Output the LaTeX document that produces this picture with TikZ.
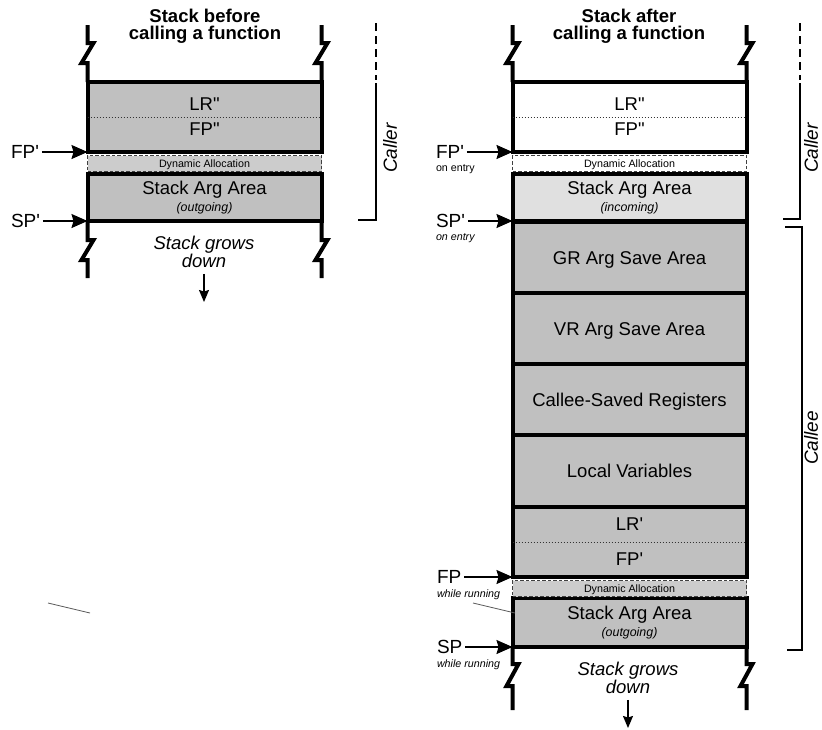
\documentclass[tikz,border=0pt]{standalone}
\usepackage{fontspec}
\setmainfont{Liberation Sans}[Ligatures=TeXOff]
\usetikzlibrary{arrows.meta}

\definecolor{framegray}{HTML}{C0C0C0}
\definecolor{inpale}{HTML}{E0E0E0}
\definecolor{dyngray}{HTML}{CCCCCC}

\newcommand\subnote[1]{{\fontsize{12.4}{17}\selectfont\itshape #1}}

\begin{document}
\begin{tikzpicture}[
		x=1pt, y=-1pt,
		every node/.style={inner sep=0pt, outer sep=0pt},
		heading/.style={
			font=\fontsize{18.5}{17}\selectfont\bfseries,
			align=center
		},
		cell/.style={
			rectangle,
			draw=black,
			line width=4pt,
			fill=framegray,
			minimum width=234pt,
			align=center,
			font=\fontsize{18.5}{17}\selectfont
		},
		oneline/.style={text height=13.3pt, text depth=0pt},
		dyncell/.style={
			rectangle,
			draw=black!75,
			line width=1.8pt,
			dash pattern=on 3.5pt off 2pt,
			fill=dyngray,
			minimum width=234pt,
			minimum height=16pt,
			font=\fontsize{10.7}{12}\selectfont,
			text height=7.7pt,
			text depth=0pt
		},
		separator/.style={
			draw=black!80,
			line width=1pt,
			dash pattern=on 1.5pt off 1.5pt
		},
		edge/.style={line width=4pt},
		ptr/.style={
			-{Stealth[length=16pt,width=14pt,inset=2pt]},
			line width=1.5pt,
			shorten <=3pt
		},
		ptrlabel/.style={
			font=\fontsize{19}{20}\selectfont,
			text height=13.6pt,
			text depth=0pt,
			anchor=west
		},
		ptrnote/.style={
			font=\fontsize{10.7}{12}\selectfont,
			anchor=north west
		},
		ptrnoteit/.style={
			ptrnote,
			font=\fontsize{10.7}{12}\selectfont\itshape
		},
		side/.style={
			font=\fontsize{19}{20}\selectfont\itshape,
			rotate=90
		},
		bracket/.style={line width=2pt},
		growtext/.style={
			font=\fontsize{18.5}{17}\selectfont\itshape,
			align=center,
			outer ysep=6pt
		},
		growarrow/.style={
			-{Stealth[length=12pt,width=10pt,inset=1.5pt]},
			line width=1.3pt
		},
		leader/.style={draw=black!65, line width=0.8pt}
	]
	\useasboundingbox (0,0) rectangle (822,729);

	% stack before the call
	\node[heading] (lhead) at (205,26) {Stack before\\calling a function};
	\node[cell, minimum height=70pt, font=\fontsize{18.5}{25}\selectfont] (lTop) at (204.5,117) {LR"\\FP"};
	\node[cell, minimum height=47pt] (lArg) at (204.5,197.5) {Stack Arg Area\\\subnote{(outgoing)}};
	\node[dyncell] (lDyn) at (204.5,163.5) {Dynamic Allocation};
	\draw[separator] (lTop.west) -- (lTop.east);

	\foreach \c in {lTop.north west, lTop.north east}
		\draw[edge] (\c) -- ++(0,-19) -- ++(-6,0) -- ++(12,-20) -- ++(-6,0) -- ++(0,-18);
	\foreach \c in {lArg.south west, lArg.south east}
		\draw[edge] (\c) -- ++(0,19) -- ++(6,0) -- ++(-12,20) -- ++(6,0) -- ++(0,18);

	\node[ptrlabel] (lfp) at (11,152) {FP'};
	\node[ptrlabel] (lsp) at (11,221) {SP'};
	\draw[ptr] (lfp.east) -- (lTop.south west);
	\draw[ptr] (lsp.east) -- (lArg.south west);

	\node[growtext] (lGrow) at (204,252) {Stack grows\\down};
	\coordinate (lGrowEnd) at (204,302);
	\draw[growarrow] (lGrow.south) -- (lGrowEnd);

	\draw[bracket, dash pattern=on 8pt off 5pt] (376,23) -- (376,80);
	\draw[bracket] (376,83) -- (376,220) -- (358,220);
	\node[side] (lcaller) at (390,148) {Caller};

	\coordinate (strayA) at (48,603);
	\coordinate (strayB) at (90,613);
	\draw[leader] (strayA) -- (strayB);

	% stack after the call
	\node[heading] (rhead) at (629,26) {Stack after\\calling a function};
	\node[cell, fill=white, minimum height=70pt, font=\fontsize{18.5}{25}\selectfont] (rTop) at (629.5,117) {LR"\\FP"};
	\node[cell, fill=inpale, minimum height=47pt] (rInc) at (629.5,197.5) {Stack Arg Area\\\subnote{(incoming)}};
	\node[cell, oneline, minimum height=71pt] (rGR) at (629.5,257.5) {GR Arg Save Area};
	\node[cell, oneline, minimum height=71pt] (rVR) at (629.5,328.5) {VR Arg Save Area};
	\node[cell, oneline, minimum height=71pt] (rCSR) at (629.5,399.5) {Callee-Saved Registers};
	\node[cell, oneline, minimum height=72pt] (rLV) at (629.5,471) {Local Variables};
	\node[cell, minimum height=70pt, font=\fontsize{18.5}{35}\selectfont] (rLoc) at (629.5,542) {LR'\\FP'};
	\node[cell, minimum height=49pt] (rOut) at (629.5,622.5) {Stack Arg Area\\\subnote{(outgoing)}};
	\node[dyncell, fill=white] (rDyn) at (629.5,163.5) {Dynamic Allocation};
	\node[dyncell] (rDyn2) at (629.5,588.5) {Dynamic Allocation};
	\draw[separator] (rTop.west) -- (rTop.east);
	\draw[separator] (rLoc.west) -- (rLoc.east);

	\foreach \c in {rTop.north west, rTop.north east}
		\draw[edge] (\c) -- ++(0,-19) -- ++(-6,0) -- ++(12,-20) -- ++(-6,0) -- ++(0,-18);
	\foreach \c in {rOut.south west, rOut.south east}
		\draw[edge] (\c) -- ++(0,17) -- ++(6,0) -- ++(-12,22) -- ++(6,0) -- ++(0,24);

	\node[ptrlabel] (rfp) at (436,152) {FP'};
	\node[ptrnote] (rfpnote) at ([yshift=-5.5pt]rfp.south west) {on entry};
	\node[ptrlabel] (rsp) at (436,221) {SP'};
	\node[ptrnoteit] (rspnote) at ([yshift=-5.5pt]rsp.south west) {on entry};
	\node[ptrlabel] (rfpw) at (437,577) {FP};
	\node[ptrnoteit] (rfpwnote) at ([yshift=-5.5pt]rfpw.south west) {while running};
	\node[ptrlabel] (rspw) at (437,647) {SP};
	\node[ptrnoteit] (rspwnote) at ([yshift=-5.5pt]rspw.south west) {while running};
	\draw[ptr] (rfp.east) -- (rTop.south west);
	\draw[ptr] (rsp.east) -- (rInc.south west);
	\draw[ptr] (rfpw.east) -- (rLoc.south west);
	\draw[ptr] (rspw.east) -- (rOut.south west);

	\coordinate (leadA) at (473,603);
	\coordinate (leadB) at (515,613);
	\draw[leader] (leadA) -- (leadB);

	\node[growtext] (rGrow) at (628,678) {Stack grows\\down};
	\coordinate (rGrowEnd) at (628,728);
	\draw[growarrow] (rGrow.south) -- (rGrowEnd);

	\draw[bracket, dash pattern=on 8pt off 5pt] (800,23) -- (800,80);
	\draw[bracket] (800,83) -- (800,219) -- (783,219);
	\draw[bracket] (785,227) -- (802,227) -- (802,650) -- (787,650);
	\node[side] (rcaller) at (811,148) {Caller};
	\node[side] (rcallee) at (811,438) {Callee};
\end{tikzpicture}
\end{document}
